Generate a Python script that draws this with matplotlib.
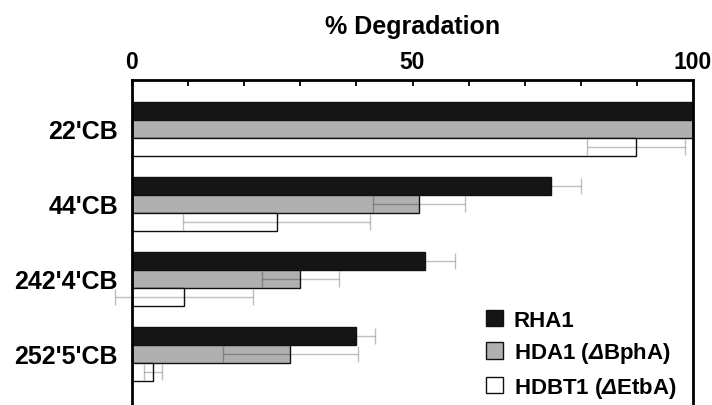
import matplotlib
matplotlib.use("Agg")
import matplotlib.pyplot as plt
from matplotlib.ticker import MultipleLocator, FixedLocator
import numpy as np

plt.rcParams['font.family'] = ['Liberation Sans', 'DejaVu Sans']
plt.rcParams['font.weight'] = 'bold'
plt.rcParams['mathtext.fontset'] = 'custom'
plt.rcParams['mathtext.it'] = 'Liberation Sans:italic'
plt.rcParams['mathtext.rm'] = 'Liberation Sans:italic'

categories = ["22'CB", "44'CB", "242'4'CB", "252'5'CB"]
series_names = ["RHA1", r"HDA1 ($\Delta$BphA)", r"HDBT1 ($\Delta$EtbA)"]
rha1 = [100.0, 74.7, 52.3, 39.9]
rha1_err = [0.0, 5.4, 5.2, 3.5]
hda1 = [100.0, 51.2, 30.0, 28.2]
hda1_err = [0.0, 8.2, 6.9, 12.0]
hdbt1 = [89.8, 25.8, 9.3, 3.8]
hdbt1_err = [8.7, 16.7, 12.3, 1.6]
xticks_major = [0, 50, 100]

values = [rha1, hda1, hdbt1]
errors = [rha1_err, hda1_err, hdbt1_err]
colors = ['#151515', '#b0b0b0', '#ffffff']
err_z = [1, 3, 3]

W, H = 712, 406
fig = plt.figure(figsize=(W / 100, H / 100), dpi=100)
ax = fig.add_axes([132 / W, 1 - 415 / H, (693 - 132) / W, (415 - 81) / H])

y = np.arange(len(categories))
bh = 0.24
offsets = [-bh, 0.0, bh]
for vals, errs, c, off, name, ez in zip(values, errors, colors, offsets, series_names, err_z):
    ax.barh(y + off, vals, height=bh, color=c, edgecolor='#111111', linewidth=1.0,
            label=name, zorder=2)
    ax.errorbar(vals, y + off, xerr=errs, fmt='none', ecolor='black', alpha=0.25,
                elinewidth=1.0, capsize=5.5, capthick=1.0, zorder=ez, clip_on=False)

ax.set_xlim(0, 100)
ax.set_ylim(3.8, -0.653)
ax.set_yticks(y)
ax.set_yticklabels(categories, fontsize=18, fontweight='bold')
ax.tick_params(axis='y', length=0, pad=10)

ax.xaxis.set_ticks_position('top')
ax.xaxis.set_label_position('top')
ax.xaxis.set_major_locator(FixedLocator(xticks_major))
ax.xaxis.set_minor_locator(MultipleLocator(10))
ax.set_xticklabels([str(t) for t in xticks_major], fontsize=16.5, fontweight='bold')
ax.tick_params(axis='x', which='both', direction='in', length=4.5, width=1.3, pad=5)
ax.set_xlabel('% Degradation', fontsize=18, fontweight='bold', labelpad=12)

for s in ax.spines.values():
    s.set_linewidth(2.0)

leg = ax.legend(loc='upper left', bbox_to_anchor=(486 / W, 1 - 311 / H),
                bbox_transform=fig.transFigure, frameon=False, borderpad=0,
                fontsize=16, handlelength=0.75, handleheight=0.75,
                handletextpad=0.5, labelspacing=0.42, borderaxespad=0)
for t in leg.get_texts():
    t.set_fontweight('bold')

fig.savefig('out.png', dpi=100)
